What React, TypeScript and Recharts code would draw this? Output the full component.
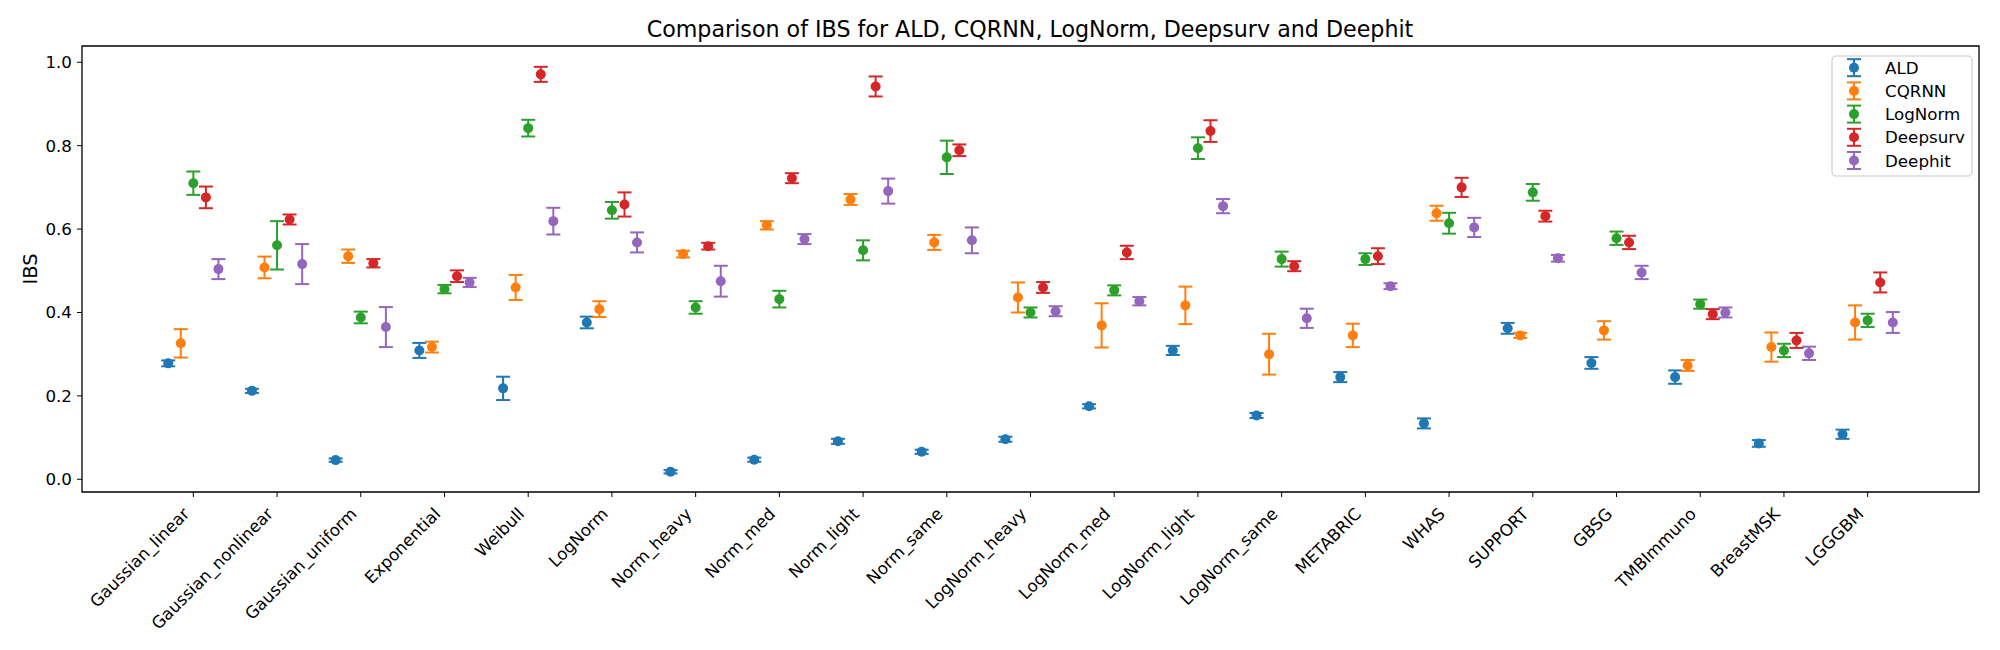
import React from "react";
import {
  ScatterChart,
  Scatter,
  XAxis,
  YAxis,
  ErrorBar,
  ReferenceArea,
} from "recharts";

const categories = [
  "Gaussian_linear",
  "Gaussian_nonlinear",
  "Gaussian_uniform",
  "Exponential",
  "Weibull",
  "LogNorm",
  "Norm_heavy",
  "Norm_med",
  "Norm_light",
  "Norm_same",
  "LogNorm_heavy",
  "LogNorm_med",
  "LogNorm_light",
  "LogNorm_same",
  "METABRIC",
  "WHAS",
  "SUPPORT",
  "GBSG",
  "TMBImmuno",
  "BreastMSK",
  "LGGGBM",
];

const aldMean = [0.278, 0.212, 0.046, 0.309, 0.218, 0.376, 0.018, 0.047, 0.091, 0.066, 0.096, 0.175, 0.309, 0.153, 0.245, 0.134, 0.362, 0.279, 0.245, 0.086, 0.108];
const aldErr = [0.007, 0.005, 0.004, 0.018, 0.028, 0.014, 0.004, 0.005, 0.006, 0.005, 0.006, 0.005, 0.011, 0.006, 0.012, 0.012, 0.013, 0.014, 0.016, 0.008, 0.011];

const cqrnnMean = [0.326, 0.508, 0.535, 0.317, 0.46, 0.408, 0.54, 0.609, 0.671, 0.568, 0.436, 0.369, 0.417, 0.3, 0.345, 0.638, 0.345, 0.357, 0.273, 0.317, 0.376];
const cqrnnErr = [0.034, 0.026, 0.016, 0.013, 0.03, 0.019, 0.008, 0.01, 0.013, 0.018, 0.036, 0.053, 0.045, 0.049, 0.028, 0.018, 0.006, 0.022, 0.013, 0.035, 0.041];

const lognormMean = [0.71, 0.561, 0.388, 0.456, 0.842, 0.645, 0.412, 0.432, 0.549, 0.772, 0.4, 0.453, 0.794, 0.528, 0.528, 0.614, 0.688, 0.578, 0.42, 0.309, 0.381];
const lognormErr = [0.028, 0.058, 0.014, 0.01, 0.02, 0.02, 0.015, 0.02, 0.024, 0.04, 0.012, 0.012, 0.026, 0.018, 0.014, 0.025, 0.02, 0.016, 0.011, 0.016, 0.016];

const deepsurvMean = [0.676, 0.623, 0.518, 0.487, 0.971, 0.659, 0.559, 0.722, 0.942, 0.789, 0.46, 0.544, 0.835, 0.511, 0.535, 0.7, 0.631, 0.568, 0.396, 0.333, 0.472];
const deepsurvErr = [0.026, 0.012, 0.01, 0.014, 0.018, 0.029, 0.008, 0.012, 0.024, 0.014, 0.013, 0.016, 0.026, 0.012, 0.019, 0.023, 0.013, 0.016, 0.012, 0.018, 0.024];

const deephitMean = [0.504, 0.516, 0.365, 0.472, 0.619, 0.568, 0.475, 0.576, 0.691, 0.573, 0.403, 0.427, 0.655, 0.386, 0.463, 0.604, 0.53, 0.496, 0.4, 0.302, 0.376];
const deephitErr = [0.024, 0.048, 0.048, 0.011, 0.032, 0.024, 0.037, 0.012, 0.03, 0.031, 0.012, 0.01, 0.017, 0.023, 0.007, 0.023, 0.008, 0.016, 0.012, 0.016, 0.025];

const yTicks = [0, 0.2, 0.4, 0.6, 0.8, 1.0];

const series = [
  { name: "ALD", mean: aldMean, err: aldErr, color: "#1f77b4", offset: -0.3 },
  { name: "CQRNN", mean: cqrnnMean, err: cqrnnErr, color: "#ff7f0e", offset: -0.15 },
  { name: "LogNorm", mean: lognormMean, err: lognormErr, color: "#2ca02c", offset: 0 },
  { name: "Deepsurv", mean: deepsurvMean, err: deepsurvErr, color: "#d62728", offset: 0.15 },
  { name: "Deephit", mean: deephitMean, err: deephitErr, color: "#9467bd", offset: 0.3 },
];

const FONT = "DejaVu Sans, Verdana, sans-serif";
const X_DOMAIN: [number, number] = [-1.33, 21.33];
const Y_DOMAIN: [number, number] = [-0.0305, 1.039];
const PLOT_BOTTOM = 492;

const XTick = ({ x, payload }: any) => {
  const ax = x - 3;
  const ay = PLOT_BOTTOM + 23;
  return (
    <text
      x={ax}
      y={ay}
      transform={`rotate(-45 ${ax} ${ay})`}
      textAnchor="end"
      fontSize={16.7}
      fontFamily={FONT}
      fill="#000"
    >
      {categories[payload.value]}
    </text>
  );
};

// title, y label and the matplotlib-style legend drawn over the chart
function Overlay() {
  return (
    <svg
      width={2000}
      height={650}
      style={{ position: "absolute", left: 0, top: 0, pointerEvents: "none" }}
    >
      <text x={1030} y={37} textAnchor="middle" fontSize={22.2} fontFamily={FONT} fill="#000">
        Comparison of IBS for ALD, CQRNN, LogNorm, Deepsurv and Deephit
      </text>
      <text
        x={37}
        y={269}
        transform="rotate(-90 37 269)"
        textAnchor="middle"
        fontSize={19.5}
        fontFamily={FONT}
        fill="#000"
      >
        IBS
      </text>
      <rect
        x={1832}
        y={56}
        width={140}
        height={120}
        rx={4}
        fill="#fff"
        fillOpacity={0.8}
        stroke="#cccccc"
        strokeWidth={1.2}
      />
      {series.map((s, i) => {
        const cy = 67.7 + i * 23.2;
        return (
          <g key={s.name}>
            <line x1={1854} x2={1854} y1={cy - 8.5} y2={cy + 8.5} stroke={s.color} strokeWidth={2} />
            <line x1={1847} x2={1861} y1={cy - 8.5} y2={cy - 8.5} stroke={s.color} strokeWidth={2} />
            <line x1={1847} x2={1861} y1={cy + 8.5} y2={cy + 8.5} stroke={s.color} strokeWidth={2} />
            <circle cx={1854} cy={cy} r={5} fill={s.color} />
            <text x={1885} y={cy + 6} fontSize={16.7} fontFamily={FONT} fill="#000">
              {s.name}
            </text>
          </g>
        );
      })}
    </svg>
  );
}

export default function App() {
  return (
    <div
      style={{
        position: "absolute",
        left: 0,
        top: 0,
        width: 2000,
        height: 650,
        background: "#fff",
        fontFamily: FONT,
      }}
    >
      <ScatterChart
        width={2000}
        height={650}
        margin={{ top: 46, right: 21, left: 22, bottom: 8 }}
      >
        <XAxis
          type="number"
          dataKey="x"
          domain={X_DOMAIN}
          allowDataOverflow
          ticks={categories.map((_, i) => i)}
          interval={0}
          tick={<XTick />}
          tickSize={5}
          axisLine={false}
          stroke="#000"
          height={150}
        />
        <YAxis
          type="number"
          dataKey="y"
          domain={Y_DOMAIN}
          allowDataOverflow
          ticks={yTicks}
          interval={0}
          tickFormatter={(v: number) => v.toFixed(1)}
          tick={{ fill: "#000", fontSize: 16.7, fontFamily: FONT }}
          tickSize={5}
          tickMargin={5}
          axisLine={false}
          stroke="#000"
          width={60}
        />
        <ReferenceArea
          x1={X_DOMAIN[0]}
          x2={X_DOMAIN[1]}
          y1={Y_DOMAIN[0]}
          y2={Y_DOMAIN[1]}
          fill="none"
          stroke="#000"
          strokeWidth={1.3}
          ifOverflow="visible"
        />
        {series.map((s) => (
          <Scatter
            key={s.name}
            name={s.name}
            data={s.mean.map((m, i) => ({ x: i + s.offset, y: m, err: s.err[i] }))}
            fill={s.color}
            isAnimationActive={false}
            shape={(p: any) => <circle cx={p.cx} cy={p.cy} r={5} fill={s.color} />}
          >
            <ErrorBar
              dataKey="err"
              direction="y"
              width={7}
              stroke={s.color}
              strokeWidth={2}
              isAnimationActive={false}
            />
          </Scatter>
        ))}
      </ScatterChart>
      <Overlay />
    </div>
  );
}
